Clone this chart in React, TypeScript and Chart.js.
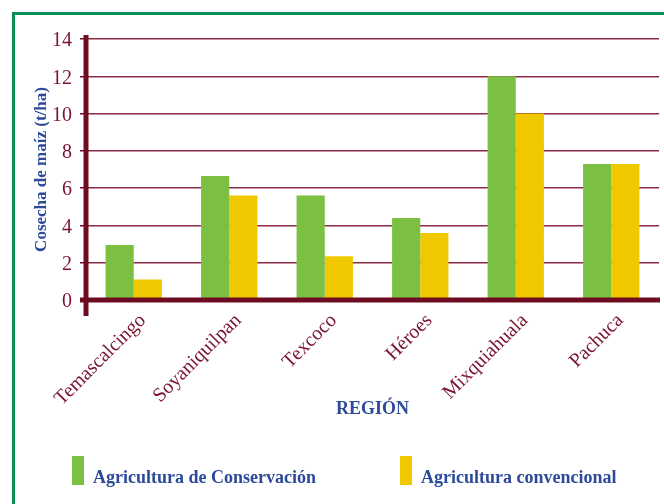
import React, { useEffect, useRef } from 'react';
import { Chart, registerables } from 'chart.js';

Chart.register(...registerables);

const categories = ['Temascalcingo', 'Soyaniquilpan', 'Texcoco', 'Héroes', 'Mixquiahuala', 'Pachuca'];
const conservacion = [2.95, 6.65, 5.6, 4.4, 12.0, 7.3];
const convencional = [1.1, 5.6, 2.35, 3.6, 10.0, 7.3];
const seriesLabels = ['Agricultura de Conservación', 'Agricultura convencional'];
const yTitle = 'Cosecha de maíz (t/ha)';
const xTitle = 'REGIÓN';

const GREEN = '#7BC043';
const YELLOW = '#F0C800';
const MAROON = '#6E0C22';
const TEXT_MAROON = '#7A1530';
const NAVY = '#2D4A9A';
const GRID = '#8A2B42';
const SERIF = "'Liberation Serif', 'Times New Roman', serif";

const axisPlugin = {
  id: 'axisLines',
  afterDatasetsDraw(chart: any) {
    const { ctx, chartArea } = chart;
    const y0 = chart.scales.y.getPixelForValue(0);
    ctx.save();
    ctx.strokeStyle = MAROON;
    ctx.lineWidth = 5;
    ctx.lineCap = 'butt';
    ctx.beginPath();
    ctx.moveTo(chartArea.left, chartArea.top - 4);
    ctx.lineTo(chartArea.left, y0 + 16);
    ctx.stroke();
    ctx.beginPath();
    ctx.moveTo(chartArea.left - 6, y0);
    ctx.lineTo(chartArea.right + 1, y0);
    ctx.stroke();
    ctx.restore();
  },
};

const legendPlugin = {
  id: 'bottomLegend',
  afterDraw(chart: any) {
    const { ctx } = chart;
    const xs = [72, 400];
    ctx.save();
    ctx.font = `bold 18px ${SERIF}`;
    ctx.textBaseline = 'alphabetic';
    ctx.textAlign = 'left';
    chart.data.datasets.forEach((d: any, i: number) => {
      ctx.fillStyle = d.backgroundColor;
      ctx.fillRect(xs[i], 456, 12, 29);
      ctx.fillStyle = NAVY;
      ctx.fillText(d.label, xs[i] + 21, 483);
    });
    ctx.restore();
  },
};

export default function App() {
  const ref = useRef<HTMLCanvasElement | null>(null);
  useEffect(() => {
    if (!ref.current) return;
    const chart = new Chart(ref.current, {
      type: 'bar',
      data: {
        labels: categories,
        datasets: [
          { label: seriesLabels[0], data: conservacion, backgroundColor: GREEN, borderWidth: 0, categoryPercentage: 0.59, barPercentage: 1 },
          { label: seriesLabels[1], data: convencional, backgroundColor: YELLOW, borderWidth: 0, categoryPercentage: 0.59, barPercentage: 1 },
        ],
      },
      options: {
        responsive: false,
        animation: false,
        devicePixelRatio: 1,
        layout: { padding: { left: 31, right: 5, top: 39, bottom: 84 } },
        plugins: { legend: { display: false }, tooltip: { enabled: false } },
        scales: {
          x: {
            grid: { display: false },
            border: { display: false },
            ticks: {
              color: TEXT_MAROON,
              font: { family: SERIF, size: 20 },
              minRotation: 45,
              maxRotation: 45,
              padding: 1,
              labelOffset: 9,
              autoSkip: false,
            },
            title: {
              display: true,
              text: xTitle,
              color: NAVY,
              font: { family: SERIF, size: 18, weight: 'bold' },
              padding: { top: 0, bottom: 0 },
            },
            afterFit(scale: any) {
              scale.height = 120;
            },
          },
          y: {
            min: 0,
            max: 14,
            ticks: { stepSize: 2, color: TEXT_MAROON, font: { family: SERIF, size: 20 }, padding: 8, labelOffset: 2 },
            grid: { color: GRID, lineWidth: 1.5, tickLength: 6, tickColor: MAROON, tickWidth: 1.5 },
            border: { display: false },
            title: {
              display: true,
              text: yTitle,
              color: NAVY,
              font: { family: SERIF, size: 17, weight: 'bold' },
              padding: { top: 0, bottom: 0 },
            },
            afterFit(scale: any) {
              scale.width = 55;
            },
          },
        },
      } as any,
      plugins: [axisPlugin, legendPlugin],
    });
    return () => chart.destroy();
  }, []);

  return (
    <div style={{ position: 'fixed', left: 0, top: 0, width: 664, height: 504, background: '#fff', overflow: 'hidden' }}>
      <div
        style={{
          position: 'absolute',
          left: 12,
          top: 12,
          right: 0,
          bottom: 0,
          borderLeft: '3px solid #0A8F55',
          borderTop: '3px solid #0A8F55',
        }}
      />
      <canvas ref={ref} width={664} height={504} style={{ position: 'absolute', left: 0, top: 0, display: 'block' }} />
    </div>
  );
}
